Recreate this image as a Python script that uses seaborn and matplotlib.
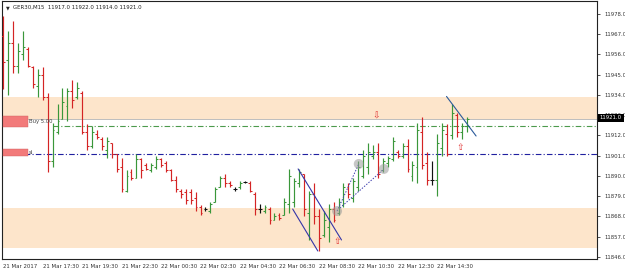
import matplotlib
matplotlib.use("Agg")
import matplotlib.pyplot as plt
import matplotlib.transforms as mtransforms
from matplotlib.patches import Rectangle, Ellipse
import numpy as np
import seaborn as sns

# ---------------- data ----------------
title_text = "GER30,M15  11917.0 11922.0 11914.0 11921.0"

highs = [11977, 11969, 11974, 11962, 11969, 11960, 11950, 11948, 11949, 11935,
         11919, 11929, 11938, 11938, 11942, 11941, 11936, 11918, 11917, 11915,
         11911, 11911, 11908, 11902, 11900, 11893, 11894, 11902, 11900, 11897,
         11897, 11901, 11900, 11898, 11894, 11890, 11883, 11883, 11883, 11881,
         11874, 11873, 11876, 11884, 11890, 11891, 11887, 11884, 11887, 11887,
         11887, 11881, 11875, 11874, 11873, 11870, 11870, 11878, 11894, 11889,
         11894, 11891, 11882, 11886, 11872, 11871, 11875, 11876, 11878, 11886,
         11886, 11889, 11898, 11904, 11908, 11907, 11908, 11900, 11901, 11911,
         11904, 11908, 11910, 11898, 11919, 11922, 11903, 11898, 11913, 11919,
         11918, 11929, 11924, 11919, 11922]
lows = [11937, 11934, 11946, 11946, 11953, 11949, 11938, 11933, 11931, 11892,
        11895, 11913, 11921, 11920, 11927, 11932, 11913, 11904, 11905, 11910,
        11904, 11900, 11900, 11892, 11881, 11881, 11888, 11889, 11889, 11893,
        11892, 11894, 11895, 11892, 11887, 11881, 11878, 11875, 11875, 11871,
        11869, 11871, 11870, 11876, 11884, 11884, 11884, 11882, 11883, 11886,
        11881, 11869, 11870, 11870, 11864, 11866, 11866, 11869, 11870, 11873,
        11884, 11868, 11855, 11864, 11849, 11857, 11854, 11865, 11869, 11873,
        11878, 11876, 11882, 11889, 11891, 11899, 11889, 11892, 11895, 11898,
        11900, 11900, 11892, 11887, 11886, 11894, 11885, 11885, 11879, 11901,
        11901, 11910, 11911, 11910, 11914]
opens = [11966, 11953, 11962, 11950, 11956, 11959, 11949, 11939, 11945, 11933,
         11898, 11914, 11921, 11928, 11936, 11933, 11935, 11914, 11906, 11913,
         11910, 11904, 11908, 11902, 11895, 11882, 11892, 11889, 11899, 11896,
         11893, 11895, 11899, 11897, 11893, 11888, 11882, 11881, 11881, 11878,
         11873, 11872, 11871, 11876, 11884, 11889, 11886, 11883, 11884, 11886.5,
         11886, 11880, 11872, 11871, 11872, 11866, 11869, 11869, 11875, 11876,
         11886, 11891, 11870, 11880, 11868, 11858, 11862, 11872, 11870, 11874,
         11884, 11878, 11884, 11890, 11895, 11901, 11903, 11893, 11897, 11899,
         11903, 11901, 11906, 11890, 11895, 11914, 11897, 11888, 11888, 11905,
         11913, 11912, 11923, 11914, 11917]
closes = [11952, 11962, 11950, 11958, 11960, 11950, 11940, 11945, 11933, 11898,
          11915, 11920, 11930, 11936, 11931, 11938, 11914, 11906, 11914, 11911,
          11906, 11909, 11902, 11894, 11883, 11890, 11889, 11899, 11893, 11894,
          11896, 11899, 11896, 11893, 11888, 11883, 11880, 11877, 11877, 11873,
          11870, 11872, 11875, 11883, 11889, 11886, 11885, 11883, 11886, 11886.5,
          11882, 11872, 11872, 11873, 11866, 11868, 11867, 11876, 11890, 11887,
          11892, 11872, 11880, 11868, 11856, 11866, 11872, 11866, 11876, 11884,
          11880, 11887, 11895, 11901, 11903, 11903, 11891, 11898, 11900, 11909,
          11901, 11906, 11894, 11896, 11915, 11896, 11888, 11888, 11908, 11915,
          11902, 11924, 11914, 11917, 11921]

xtick_bars = [0, 8, 16, 24, 32, 40, 48, 56, 64, 72, 80, 88]
xtick_labels = ["21 Mar 2017", "21 Mar 17:30", "21 Mar 19:30", "21 Mar 22:30",
                "22 Mar 00:30", "22 Mar 02:30", "22 Mar 04:30", "22 Mar 06:30",
                "22 Mar 08:30", "22 Mar 10:30", "22 Mar 12:30", "22 Mar 14:30"]
ytick_values = [11846, 11857, 11868, 11879, 11890, 11901, 11912, 11923,
                11934, 11945, 11956, 11967, 11978]

zone_upper = (11921, 11933)
zone_lower = (11851, 11872.6)
buy_level = 11917
sl_level = 11902
bid_level = 11921

# trend lines: (bar0, price0, bar1, price1)
trend_lines = [(59.8, 11893.8, 68.6, 11855.2),
               (58.7, 11872.0, 63.8, 11849.2),
               (89.9, 11933.2, 95.9, 11911.7)]
dotted_lines = [(67.7, 11870.9, 72.1, 11896.5),
                (68.3, 11872.6, 77.0, 11893.2)]
circles = [(72.1, 11896.5), (77.2, 11893.8), (67.7, 11870.9)]
arrows_down = [(75.6, 11922.6)]
arrows_up = [(92.6, 11905.2), (67.7, 11854.1)]

# ---------------- figure ----------------
sns.set_style("white")
plt.rcParams["font.family"] = ["DejaVu Sans"]

W, H = 625, 274
fig = plt.figure(figsize=(W / 100, H / 100), dpi=100)
ax = fig.add_axes([2 / W, (H - 259) / H, 595 / W, 258 / H])

px_bar = 4.93
px_price = 1.84
ax.set_xlim((2 - 3.3) / px_bar, (597 - 3.3) / px_bar)
ax.set_ylim(11978 - (259 - 14) / px_price, 11978 + (14 - 1) / px_price)

zone_col = "#FDE5CB"
ax.axhspan(*zone_upper, color=zone_col, lw=0, zorder=0)
ax.axhspan(*zone_lower, color=zone_col, lw=0, zorder=0)

ax.axhline(bid_level, color="#BDBDBD", lw=0.7, zorder=1)
ax.plot([10, ax.get_xlim()[1]], [buy_level, buy_level], color="#4C9A4C",
        lw=0.8, ls=(0, (5, 2, 1, 2)), zorder=1)
ax.axhline(sl_level, color="#2020A0", lw=0.8, ls=(0, (5, 2, 1, 2)), zorder=1)

x = np.arange(len(highs))
o = np.array(opens); c = np.array(closes)
cols = np.where(c > o, "#3A973A", np.where(c < o, "#D42424", "#111111"))
ax.vlines(x, lows, highs, colors=cols, lw=0.85, zorder=3)
ax.hlines(opens, x - 0.38, x, colors=cols, lw=0.75, zorder=3)
ax.hlines(closes, x, x + 0.38, colors=cols, lw=0.75, zorder=3)

for (x0, y0, x1, y1), col in zip(trend_lines, ["#3535A8", "#3535A8", "#2A5A9A"]):
    ax.plot([x0, x1], [y0, y1], color=col, lw=0.8, zorder=4)
for x0, y0, x1, y1 in dotted_lines:
    ax.plot([x0, x1], [y0, y1], color="#4040B0", lw=0.7, ls=(0, (1.5, 1.5)), zorder=4)
for cx, cy in circles:
    ax.add_patch(Ellipse((cx, cy), 10 / px_bar, 10 / px_price, color="#9A9A9A",
                         alpha=0.55, lw=0, zorder=5))
for ax_, ay in arrows_down:
    ax.text(ax_, ay, "⇩", color="#E03030", fontsize=6.5, ha="center", va="center", zorder=6)
for ax_, ay in arrows_up:
    ax.text(ax_, ay, "⇧", color="#E03030", fontsize=6.5, ha="center", va="center", zorder=6)

# order labels at left
blend = mtransforms.blended_transform_factory(ax.transAxes, ax.transData)
for lvl, txt, yoff, hgt in [(buy_level, "Buy 5.00", 2.5, 5.6), (sl_level, "sl", 0.7, 4.0)]:
    ax.add_patch(Rectangle((0.001, lvl + yoff - hgt / 2), 25 / 595, hgt, transform=blend,
                           facecolor="#F27A7A", edgecolor="#D06060", lw=0.3, zorder=6))
    ax.text(27 / 595, lvl + yoff, txt, transform=blend, fontsize=3.8, color="#444444",
            va="center", ha="left", zorder=6)

# axes styling
for s in ax.spines.values():
    s.set_color("#222222")
    s.set_linewidth(0.8)
ax.yaxis.tick_right()
ax.set_yticks(ytick_values)
ax.set_yticklabels([f"{v:.1f}" for v in ytick_values])
ax.set_xticks(xtick_bars)
ax.set_xticklabels(xtick_labels, ha="left")
ax.tick_params(axis="both", labelsize=3.9, colors="#333333", length=2, width=0.6, pad=1.5)
ax.tick_params(axis="y", pad=3)
ax.tick_params(axis="x", pad=1.5)

# current price label (covers the neighbouring tick label, as in the terminal)
ax.add_patch(Rectangle((1.0015, bid_level - 1.6), 26 / 595, 4.4, transform=blend,
                       facecolor="black", edgecolor="black", lw=0, clip_on=False, zorder=7))
ax.text(1.0015 + 13 / 595, bid_level + 0.6, f"{bid_level:.1f}", transform=blend, fontsize=3.9,
        color="white", ha="center", va="center", clip_on=False, zorder=8)

fig.text(6 / W, 1 - 7.5 / H, "▼", fontsize=3.5, color="#222222", va="center")
fig.text(13 / W, 1 - 7.5 / H, title_text, fontsize=3.9, color="#222222", va="center")

fig.savefig("out.png", dpi=100, facecolor="white")
